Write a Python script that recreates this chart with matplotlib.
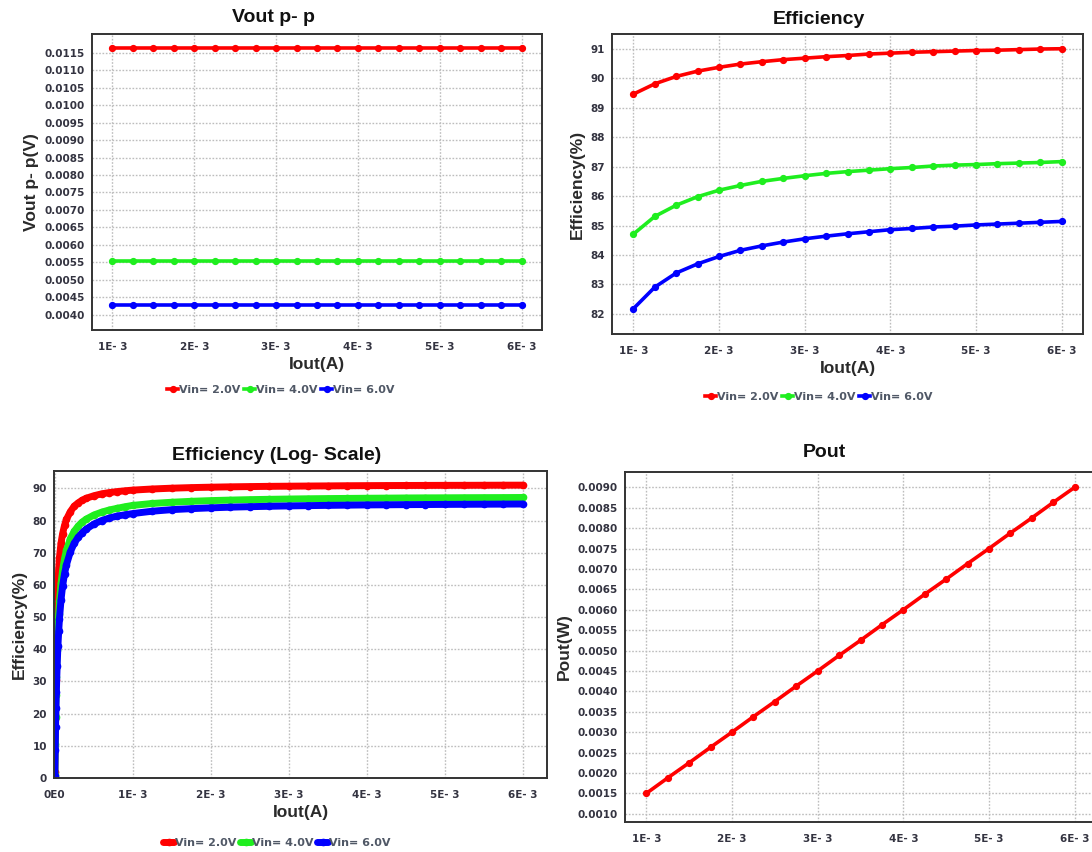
import matplotlib
matplotlib.use("Agg")
import matplotlib.pyplot as plt
from matplotlib.ticker import FormatStrFormatter

# ---- data (Iout in A) ----
iout = [1.0e-3, 1.25e-3, 1.5e-3, 1.75e-3, 2.0e-3, 2.25e-3, 2.5e-3, 2.75e-3, 3.0e-3,
        3.25e-3, 3.5e-3, 3.75e-3, 4.0e-3, 4.25e-3, 4.5e-3, 4.75e-3, 5.0e-3, 5.25e-3,
        5.5e-3, 5.75e-3, 6.0e-3]

vpp_2v = [0.01163] * 21
vpp_4v = [0.00553] * 21
vpp_6v = [0.00428] * 21

eff_2v = [89.46, 89.81, 90.06, 90.24, 90.37, 90.48, 90.56, 90.63, 90.68, 90.73, 90.77,
          90.82, 90.85, 90.88, 90.90, 90.92, 90.94, 90.95, 90.97, 90.99, 91.00]
eff_4v = [84.71, 85.31, 85.69, 85.98, 86.20, 86.36, 86.50, 86.60, 86.69, 86.77, 86.83,
          86.88, 86.93, 86.97, 87.02, 87.05, 87.07, 87.10, 87.12, 87.14, 87.17]
eff_6v = [82.18, 82.91, 83.39, 83.70, 83.95, 84.16, 84.31, 84.44, 84.55, 84.64, 84.72,
          84.79, 84.86, 84.90, 84.95, 84.98, 85.02, 85.05, 85.08, 85.11, 85.14]

# low-current part of the wide sweep (below 1 mA)
iout_low = [0.0005e-3, 0.005e-3, 0.01e-3, 0.015e-3, 0.02e-3, 0.03e-3, 0.04e-3, 0.05e-3,
            0.06e-3, 0.08e-3, 0.1e-3, 0.125e-3, 0.15e-3, 0.2e-3, 0.25e-3, 0.3e-3,
            0.35e-3, 0.4e-3, 0.5e-3, 0.6e-3, 0.7e-3, 0.8e-3, 0.9e-3]
eff_low_2v = [2.0, 18.3, 30.4, 39.0, 45.6, 54.8, 60.5, 64.8, 68.5, 73.0, 75.9, 78.5,
              80.4, 82.8, 84.5, 85.5, 86.3, 86.9, 87.7, 88.3, 88.7, 89.0, 89.25]
eff_low_4v = [1.0, 10.7, 19.1, 25.8, 31.4, 39.9, 46.2, 51.0, 54.9, 60.5, 64.5, 68.2,
              70.8, 74.4, 76.7, 78.3, 79.5, 80.4, 81.7, 82.6, 83.3, 83.8, 84.3]
eff_low_6v = [0.5, 8.8, 15.9, 21.8, 26.8, 34.7, 40.9, 45.6, 49.5, 55.4, 59.6, 63.5,
              66.3, 70.3, 73.0, 74.8, 76.2, 77.3, 78.9, 80.0, 80.8, 81.4, 81.8]

pout = [0.00150, 0.00188, 0.00225, 0.00263, 0.00300, 0.00338, 0.00375, 0.00413, 0.00450,
        0.00488, 0.00525, 0.00563, 0.00600, 0.00638, 0.00675, 0.00713, 0.00750, 0.00788,
        0.00825, 0.00863, 0.00900]

labels = ["Vin= 2.0V", "Vin= 4.0V", "Vin= 6.0V"]
colors = ["#ff0000", "#1fee1f", "#0000ff"]

xtick_vals = [1e-3, 2e-3, 3e-3, 4e-3, 5e-3, 6e-3]
xtick_text = ["1E- 3", "2E- 3", "3E- 3", "4E- 3", "5E- 3", "6E- 3"]

TITLE_FONT = dict(family="Liberation Sans", weight="bold", size=14, color="#111111")
LABEL_FONT = dict(family="Liberation Sans", weight="bold", size=12.5, color="#2a2a2a")
TICK_COLOR = "#333340"

W, H = 1092, 852
fig = plt.figure(figsize=(W / 100, H / 100), dpi=100)


def px_axes(left, top, right, bottom):
    return fig.add_axes([left / W, 1 - bottom / H, (right - left) / W, (bottom - top) / H])


def style(ax):
    for sp in ax.spines.values():
        sp.set_color("#333333")
        sp.set_linewidth(1.4)
    ax.grid(True, color="#bdbdbd", linestyle=(0, (1.2, 1.2)), linewidth=1.0)
    ax.set_axisbelow(True)
    ax.tick_params(axis="both", length=0, labelsize=7.5, labelcolor=TICK_COLOR)
    ax.tick_params(axis="x", pad=9)
    ax.tick_params(axis="y", pad=5)
    for t in ax.get_xticklabels() + ax.get_yticklabels():
        t.set_fontweight("bold")
        t.set_family("DejaVu Sans")


def add_legend(handles, cx, cy):
    leg = fig.legend(handles, labels, loc="center", bbox_to_anchor=(cx / W, 1 - cy / H),
                     ncol=3, frameon=False, handlelength=1.0, handletextpad=0.1,
                     columnspacing=0.3, borderaxespad=0,
                     prop=dict(family="DejaVu Sans", weight="bold", size=8))
    for t in leg.get_texts():
        t.set_color("#505866")


# ---- Vout p-p ----
ax1 = px_axes(92, 34, 542, 330)
h1 = []
for ys, c in zip([vpp_2v, vpp_4v, vpp_6v], colors):
    h1.append(ax1.plot(iout, ys, color=c, lw=2.6, marker="o", ms=4.2)[0])
ax1.set_xlim(0.75e-3, 6.25e-3)
ax1.set_ylim(0.00357, 0.01203)
ax1.set_yticks([0.0040 + 0.0005 * k for k in range(16)])
ax1.yaxis.set_major_formatter(FormatStrFormatter("%.4f"))
ax1.set_xticks(xtick_vals, xtick_text)
ax1.set_xlabel("Iout(A)", labelpad=3, **LABEL_FONT)
ax1.set_ylabel("Vout p- p(V)", labelpad=4, **LABEL_FONT)
style(ax1)
fig.text(273 / W, 1 - 18 / H, "Vout p- p", ha="center", va="center", **TITLE_FONT)
add_legend(h1, 281, 390)

# ---- Efficiency ----
ax2 = px_axes(612, 34, 1083, 334)
h2 = []
for ys, c in zip([eff_2v, eff_4v, eff_6v], colors):
    h2.append(ax2.plot(iout, ys, color=c, lw=2.6, marker="o", ms=4.2)[0])
ax2.set_xlim(0.75e-3, 6.25e-3)
ax2.set_ylim(81.32, 91.5)
ax2.set_yticks(list(range(82, 92)))
ax2.set_xticks(xtick_vals, xtick_text)
ax2.set_xlabel("Iout(A)", labelpad=3, **LABEL_FONT)
ax2.set_ylabel("Efficiency(%)", labelpad=4, **LABEL_FONT)
style(ax2)
fig.text(819 / W, 1 - 19 / H, "Efficiency", ha="center", va="center", **TITLE_FONT)
add_legend(h2, 819, 397)

# ---- Efficiency (Log-Scale) ----
ax3 = px_axes(54, 471, 547, 778)
h3 = []
for lo, ys, c in zip([eff_low_2v, eff_low_4v, eff_low_6v], [eff_2v, eff_4v, eff_6v], colors):
    h3.append(ax3.plot(iout_low + iout, lo + ys, color=c, lw=5.0, marker="o", ms=4.5,
                       solid_capstyle="round", solid_joinstyle="round")[0])
ax3.set_xlim(-0.01e-3, 6.31e-3)
ax3.set_ylim(0, 95.4)
ax3.set_yticks(list(range(0, 100, 10)))
ax3.set_xticks([0.0] + xtick_vals, ["0E0"] + xtick_text)
ax3.set_xlabel("Iout(A)", labelpad=3, **LABEL_FONT)
ax3.set_ylabel("Efficiency(%)", labelpad=4, **LABEL_FONT)
style(ax3)
fig.text(277 / W, 1 - 455 / H, "Efficiency (Log- Scale)", ha="center", va="center",
         **TITLE_FONT)
add_legend(h3, 277, 843)

# ---- Pout ----
ax4 = px_axes(625, 472, 1096, 822)
ax4.plot(iout, pout, color="#ff0000", lw=2.6, marker="o", ms=4.2)
ax4.set_xlim(0.75e-3, 6.25e-3)
ax4.set_ylim(0.000797, 0.009377)
ax4.set_yticks([0.0010 + 0.0005 * k for k in range(17)])
ax4.yaxis.set_major_formatter(FormatStrFormatter("%.4f"))
ax4.set_xticks(xtick_vals, xtick_text)
ax4.set_ylabel("Pout(W)", labelpad=4, **LABEL_FONT)
style(ax4)
fig.text(824 / W, 1 - 453 / H, "Pout", ha="center", va="center", **TITLE_FONT)

fig.savefig("out.png", dpi=100)
